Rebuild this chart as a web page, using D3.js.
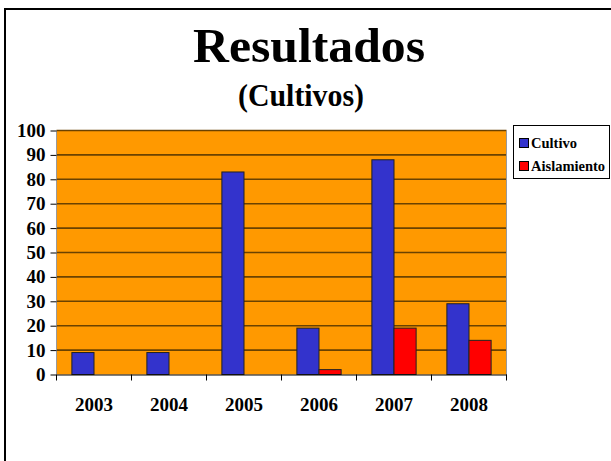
<!DOCTYPE html>
<html><head><meta charset="utf-8">
<script src="https://cdn.jsdelivr.net/npm/d3@7"></script>
<style>html,body{margin:0;padding:0;background:#fff;overflow:hidden}</style>
</head><body>
<script>
const categories = ["2003","2004","2005","2006","2007","2008"];
const seriesNames = ["Cultivo","Aislamiento"];
const cultivo = [9, 9, 83, 19, 88, 29];
const aislamiento = [0, 0, 0, 2, 19, 14];
const yTicks = [0,10,20,30,40,50,60,70,80,90,100];
const colors = ["#3333CC","#FF0000"];

const W = 611, H = 461;
const svg = d3.select("body").append("svg").attr("width", W).attr("height", H);
const font = "Liberation Serif, Times New Roman, serif";

// frame
svg.append("rect").attr("x",5).attr("y",9).attr("width",W+10).attr("height",H+10)
  .attr("fill","none").attr("stroke","#000").attr("stroke-width",2);

// titles
svg.append("text").attr("x",309).attr("y",62).attr("text-anchor","middle")
  .attr("font-family",font).attr("font-weight","bold").attr("font-size",49)
  .attr("textLength",232).attr("lengthAdjust","spacingAndGlyphs").text("Resultados");
svg.append("text").attr("x",301).attr("y",106).attr("text-anchor","middle")
  .attr("font-family",font).attr("font-weight","bold").attr("font-size",31)
  .attr("textLength",126).attr("lengthAdjust","spacingAndGlyphs").text("(Cultivos)");

const m = {left:56.5, right:506.5, top:130.5, bottom:374.5};
const x0 = d3.scaleBand().domain(categories).range([m.left, m.right]).paddingInner(0.41).paddingOuter(0.205);
const x1 = d3.scaleBand().domain(seriesNames).range([0, x0.bandwidth()]);
const xOuter = d3.scaleBand().domain(categories).range([m.left, m.right]);
const y = d3.scaleLinear().domain([0,100]).range([m.bottom, m.top]);

svg.append("rect").attr("x",m.left).attr("y",m.top).attr("width",m.right-m.left).attr("height",m.bottom-m.top)
  .attr("fill","#FF9900");

// gridlines
svg.append("g").selectAll("line").data(yTicks.filter(d=>d>0)).join("line")
  .attr("x1",m.left).attr("x2",m.right).attr("y1",d=>y(d)).attr("y2",d=>y(d))
  .attr("stroke","#6a4200").attr("stroke-width",1.6);

// plot edges (light)
svg.append("line").attr("x1",m.left).attr("x2",m.left).attr("y1",m.top).attr("y2",m.bottom)
  .attr("stroke","#999").attr("stroke-width",1);
svg.append("line").attr("x1",m.right).attr("x2",m.right).attr("y1",m.top).attr("y2",m.bottom)
  .attr("stroke","#999").attr("stroke-width",1);

// bars
const data = categories.map((c,i)=>({cat:c, vals:[cultivo[i], aislamiento[i]]}));
const g = svg.append("g");
data.forEach(d=>{
  d.vals.forEach((v,j)=>{
    if (v<=0) return;
    g.append("rect").attr("x", x0(d.cat)+x1(seriesNames[j])).attr("y", y(v))
      .attr("width", x1.bandwidth()).attr("height", y(0)-y(v))
      .attr("fill", colors[j]).attr("stroke","#222").attr("stroke-width",1);
  });
});

// y axis
const ya = svg.append("g").attr("transform",`translate(${m.left},0)`)
  .call(d3.axisLeft(y).tickValues(yTicks).tickSize(6).tickPadding(5));
ya.select(".domain").remove();
ya.selectAll("line").attr("stroke","#000");
ya.selectAll("text").attr("font-family",font).attr("font-weight","bold").attr("font-size",19).attr("fill","#000");

// x axis
const xa = svg.append("g").attr("transform",`translate(0,${m.bottom})`)
  .call(d3.axisBottom(xOuter).tickSize(0).tickPadding(23));
xa.select(".domain").attr("stroke","#000");
xa.selectAll("text").attr("font-family",font).attr("font-weight","bold").attr("font-size",19).attr("fill","#000");
svg.append("g").selectAll("line").data(categories.concat(["end"])).join("line")
  .attr("x1",(d,i)=> i<categories.length ? xOuter(d) : m.right)
  .attr("x2",(d,i)=> i<categories.length ? xOuter(d) : m.right)
  .attr("y1",m.bottom).attr("y2",m.bottom+6).attr("stroke","#000");

// legend
const lg = svg.append("g");
lg.append("rect").attr("x",513.5).attr("y",125.5).attr("width",96).attr("height",53)
  .attr("fill","#fff").attr("stroke","#000").attr("stroke-width",1);
seriesNames.forEach((s,i)=>{
  const yy = 138 + i*23;
  lg.append("rect").attr("x",519.5).attr("y",yy+0.5).attr("width",9).attr("height",9)
    .attr("fill",colors[i]).attr("stroke","#000").attr("stroke-width",1);
  lg.append("text").attr("x",531).attr("y",yy+10).attr("font-family",font).attr("font-weight","bold")
    .attr("font-size",14.5).text(s);
});
</script>
</body></html>
